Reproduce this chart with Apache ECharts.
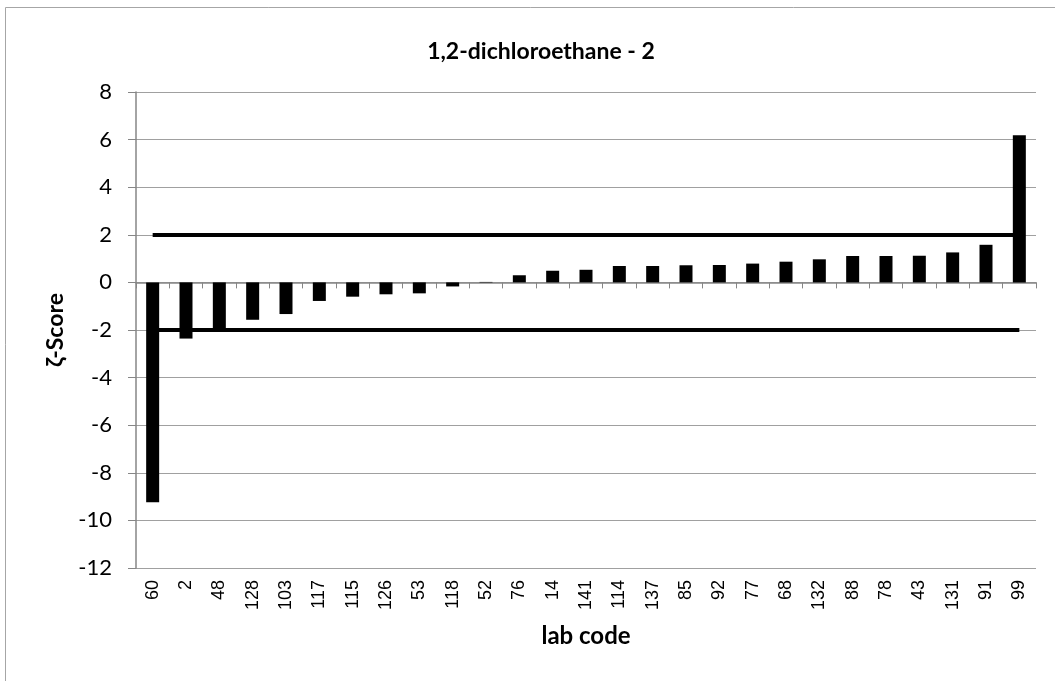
<!DOCTYPE html>
<html>
<head>
<meta charset="utf-8">
<script src="https://cdn.jsdelivr.net/npm/echarts@6/dist/echarts.min.js"></script>
<style>html,body{margin:0;padding:0;background:#fff;}#c{width:1055px;height:681px;}</style>
</head>
<body>
<div id="c"></div>
<script>
const chartTitle = '1,2-dichloroethane - 2';
const labCodes = ['60','2','48','128','103','117','115','126','53','118','52','76','14','141','114','137','85','92','77','68','132','88','78','43','131','91','99'];
const zetaScores = [-9.24,-2.36,-2.0,-1.57,-1.33,-0.78,-0.6,-0.5,-0.46,-0.17,0.02,0.3,0.49,0.53,0.69,0.69,0.72,0.73,0.79,0.87,0.97,1.11,1.11,1.12,1.26,1.58,6.18];
const upperLimit = 2;
const lowerLimit = -2;
const yMin = -12, yMax = 8, yStep = 2;

const chart = echarts.init(document.getElementById('c'), null, {renderer: 'canvas'});
const first = labCodes[0], last = labCodes[labCodes.length - 1];
const limitStyle = {color: '#000', width: 4, type: 'solid'};
chart.setOption({
  animation: false,
  backgroundColor: '#fff',
  title: {
    text: chartTitle, left: 536, top: 35, textAlign: 'center',
    textStyle: {fontFamily: 'Lato', fontWeight: 'bold', fontSize: 23, color: '#000'}
  },
  graphic: [{
    type: 'rect', shape: {x: 5.5, y: 7.5, width: 1200, height: 1000},
    style: {fill: 'none', stroke: '#a6a6a6', lineWidth: 1}, silent: true, z: -1
  }],
  grid: {left: 136, right: 19, top: 92, bottom: 113, containLabel: false},
  xAxis: [{
    type: 'category', data: labCodes, position: 'bottom',
    name: 'lab code', nameLocation: 'middle', nameGap: 56,
    nameTextStyle: {fontFamily: 'Lato', fontWeight: 'bold', fontSize: 24, color: '#000'},
    axisLine: {show: false, onZero: false},
    axisTick: {show: false},
    axisLabel: {rotate: 90, margin: 12, fontFamily: 'Liberation Sans', fontSize: 18, color: '#000', interval: 0},
    splitLine: {show: false}
  }, {
    type: 'category', data: labCodes, position: 'bottom',
    axisLine: {show: true, onZero: true, lineStyle: {color: '#868686', width: 1.5}},
    axisTick: {show: true, length: 6, lineStyle: {color: '#868686', width: 1}},
    axisLabel: {show: false},
    splitLine: {show: false}
  }],
  yAxis: {
    type: 'value', min: yMin, max: yMax, interval: yStep,
    name: 'ζ-Score', nameLocation: 'middle', nameGap: 66,
    nameTextStyle: {fontFamily: 'Lato', fontWeight: 'bold', fontSize: 23, color: '#000'},
    axisLine: {show: true, lineStyle: {color: '#868686', width: 1.5}},
    axisTick: {show: true, length: 8, lineStyle: {color: '#868686'}},
    axisLabel: {margin: 24, fontFamily: 'Lato', fontSize: 22, color: '#000'},
    splitLine: {show: true, lineStyle: {color: '#a0a0a0', width: 1}}
  },
  series: [{
    type: 'bar', data: zetaScores, xAxisIndex: 0, barWidth: 13,
    itemStyle: {color: '#000'},
    markLine: {
      silent: true, symbol: ['none', 'none'], label: {show: false},
      lineStyle: limitStyle,
      data: [
        [{coord: [first, upperLimit]}, {coord: [last, upperLimit]}],
        [{coord: [first, lowerLimit]}, {coord: [last, lowerLimit]}]
      ]
    }
  }]
});
</script>
</body>
</html>
